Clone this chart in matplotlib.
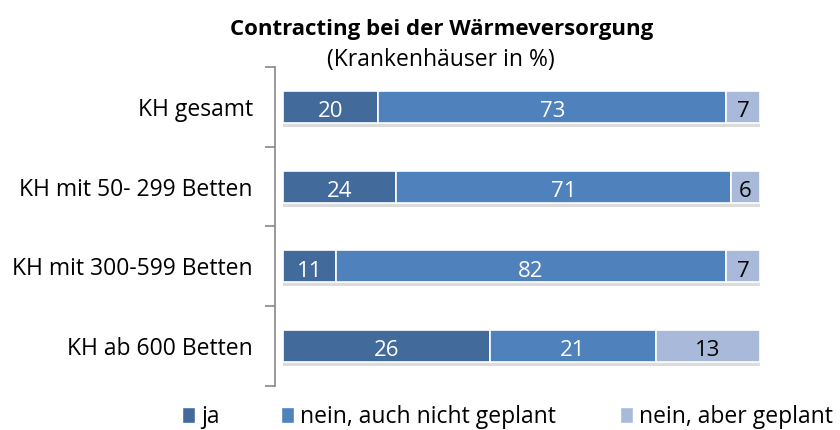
import matplotlib.pyplot as plt
from matplotlib.patches import Patch
import numpy as np

# Data
categories = ["KH gesamt", "KH mit 50- 299 Betten", "KH mit 300-599 Betten", "KH ab 600 Betten"]
ja = [20, 24, 11, 26]
nein_nicht = [73, 71, 82, 21]
nein_geplant = [7, 6, 7, 13]
series_names = ["ja", "nein, auch nicht geplant", "nein, aber geplant"]
colors = ["#426A9B", "#4F81BD", "#A8B9D9"]
label_colors = ["white", "white", "black"]

plt.rcParams['font.family'] = ['Open Sans', 'DejaVu Sans']

fig = plt.figure(figsize=(8.4, 4.3), dpi=100)
ax = fig.add_axes([275 / 840, 1 - 386 / 430, (762 - 275) / 840, (386 - 67) / 430])

values = np.array([ja, nein_nicht, nein_geplant], dtype=float)
totals = values.sum(axis=0)
pct = values / totals * 100  # 100 % stacked

y = np.arange(len(categories))
left = np.zeros(len(categories))
for i in range(3):
    # soft shadow under each segment
    ax.barh(y + 0.05, pct[i], left=left, height=0.4, color="#bbbbbb", alpha=0.5, zorder=1)
    bars = ax.barh(y, pct[i], left=left, height=0.4, color=colors[i],
                   edgecolor="white", linewidth=1.2, zorder=2)
    for j, b in enumerate(bars):
        ax.text(left[j] + pct[i][j] / 2, y[j] + 0.06, f"{values[i][j]:.0f}",
                ha="center", va="center", color=label_colors[i], fontsize=16, zorder=3)
    left += pct[i]

ax.set_ylim(len(categories) - 0.5, -0.5)
ax.set_xlim(-1.7, 100.5)
ax.set_yticks(np.arange(-0.5, len(categories)), minor=False)
ax.set_yticklabels([])
ax.set_yticks(y, minor=True)
ax.set_yticklabels(categories, minor=True, fontsize=16.5)
ax.tick_params(axis="y", which="major", length=7, color="#888888", width=1.2, direction="out")
ax.tick_params(axis="y", which="minor", length=0, pad=16)
ax.set_xticks([])
for s in ["top", "right", "bottom"]:
    ax.spines[s].set_visible(False)
ax.spines["left"].set_color("#888888")
ax.spines["left"].set_linewidth(1.2)

fig.text(442 / 840, 1 - 30 / 430, "Contracting bei der Wärmeversorgung",
         ha="center", va="center", fontsize=16, fontweight="bold")
fig.text(441 / 840, 1 - 60 / 430, "(Krankenhäuser in %)",
         ha="center", va="center", fontsize=16.5)

# legend entries placed individually (uneven spacing as in the original)
legend_x = [182, 281, 620]
for name, c, lx in zip(series_names, colors, legend_x):
    fig.legend(handles=[Patch(facecolor=c, edgecolor="white")], labels=[name],
               loc="center left", bbox_to_anchor=(lx / 840, 1 - 417 / 430),
               frameon=False, fontsize=16.5, handlelength=0.55, handleheight=0.65,
               handletextpad=0.3, borderaxespad=0, borderpad=0)

fig.savefig("out.png", dpi=100)
